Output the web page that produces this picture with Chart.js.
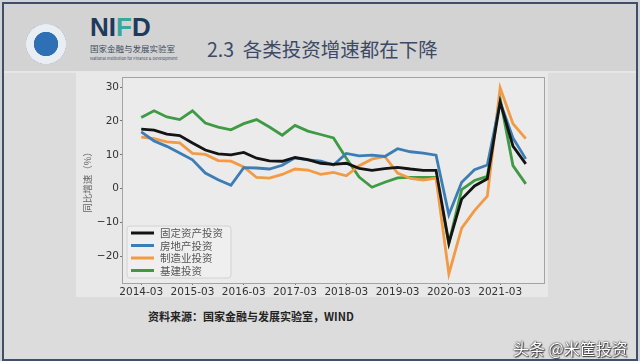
<!DOCTYPE html>
<html>
<head>
<meta charset="utf-8">
<script src="https://cdn.jsdelivr.net/npm/chart.js@4.4.1/dist/chart.umd.min.js"></script>
<style>
  html, body { margin: 0; padding: 0; }
  body { width: 640px; height: 361px; position: relative; overflow: hidden; background: #cfd3d8;
         font-family: "Noto Sans CJK SC", "Noto Sans", sans-serif; }
  .frame { position: absolute; left: 2px; top: 2px; width: 632px; height: 355px;
           border: 2px solid #3f4f68; background: #dcdcdc; }
  .header { position: absolute; left: 0; top: 0; width: 632px; height: 67px; background: #d3d3d3;
            border-bottom: 2px solid #e6e6e6; }
  .logo { position: absolute; left: 22px; top: 20px; width: 40px; height: 40px; border-radius: 50%;
          background: radial-gradient(circle, #2f6fb3 0 42%, #e9eef5 44% 70%, #5b86b8 72% 100%); }
  .nifd { position: absolute; left: 86px; top: 8px; font: 900 26px "Liberation Sans", Arial, sans-serif;
          color: #1f3a5c; }
  .nifd span { color: #3aa6a0; }
  .cn { position: absolute; left: 86px; top: 38px; font-size: 8.5px; color: #3d4b60; }
  .en { position: absolute; left: 86px; top: 51px; font-size: 4px; color: #3d4b60; }
  .title { position: absolute; left: 203px; top: 30px; font-size: 19.5px; color: #3c4a68; white-space: pre; }
  .fig { position: absolute; left: 76px; top: 71px; width: 472px; height: 226px; background: #e8e8e8; }
  .source { position: absolute; left: 148px; top: 308px; font-size: 11px; font-weight: bold; color: #222; }
  .mark { position: absolute; left: 513px; top: 336px; font-size: 16px; color: #fff; z-index: 5;
          text-shadow: 0 0 2px #333, 0 0 1px #333, 1px 1px 1px #444; }
  canvas { position: absolute; left: 0; top: 0; z-index: 2; }
</style>
</head>
<body>
<div class="frame">
  <div class="header">
    <div class="logo"></div>
    <div class="nifd">NI<span>F</span>D</div>
    <div class="cn">国家金融与发展实验室</div>
    <div class="en">National Institution for Finance &amp; Development</div>
    <div class="title">2.3  各类投资增速都在下降</div>
  </div>
</div>
<div class="fig"></div>
<div class="source">资料来源：国家金融与发展实验室，WIND</div>
<div class="mark">头条 @米筐投资</div>
<canvas id="chart" width="640" height="361"></canvas>
<script>
const quarters = [
  '2014-03','2014-06','2014-09','2014-12','2015-03','2015-06','2015-09','2015-12',
  '2016-03','2016-06','2016-09','2016-12','2017-03','2017-06','2017-09','2017-12',
  '2018-03','2018-06','2018-09','2018-12','2019-03','2019-06','2019-09','2019-12',
  '2020-03','2020-06','2020-09','2020-12','2021-03','2021-06','2021-09'
];
const seriesNames = ['固定资产投资', '房地产投资', '制造业投资', '基建投资'];
const fixedAsset = [17.6,17.3,16.1,15.7,13.5,11.4,10.3,10.0,10.7,9.0,8.2,8.1,9.2,8.6,7.5,7.2,7.5,6.0,5.4,5.9,6.3,5.8,5.4,5.4,-16.1,-3.1,0.8,2.9,25.6,12.6,7.3];
const realEstate = [16.8,14.1,12.5,10.5,8.5,4.6,2.6,1.0,6.2,6.1,5.8,6.9,9.1,8.5,8.1,7.0,10.4,9.7,9.9,9.5,11.8,10.9,10.5,9.9,-7.7,1.9,5.6,7.0,25.6,15.0,8.8];
const manufacturing = [15.2,14.8,13.8,13.5,10.4,10.1,8.3,8.1,6.4,3.3,3.1,4.2,5.8,5.5,4.2,4.8,3.8,6.8,8.7,9.5,4.6,3.0,2.5,3.1,-25.2,-11.7,-6.5,-2.2,29.8,19.2,14.8];
const infrastructure = [21.0,23.0,21.2,20.4,23.0,19.4,18.2,17.4,19.2,20.4,18.2,15.8,18.7,17.0,16.0,15.0,9.0,3.4,0.4,1.9,3.2,3.3,3.3,3.3,-16.2,-0.3,2.4,3.6,26.6,6.8,1.4];
const yTicks = [-20, -10, 0, 10, 20, 30];
const xTickIdx = [0, 4, 8, 12, 16, 20, 24, 28];

const colors = ['#141414', '#3b7db4', '#f29a45', '#3f9a44'];
const allSeries = [fixedAsset, realEstate, manufacturing, infrastructure];

// plot background + full box + legend drawn inside the axes
const boxPlugin = {
  id: 'box',
  beforeDraw(chart) {
    const a = chart.chartArea, c = chart.ctx;
    c.save();
    c.fillStyle = '#ebebeb';
    c.fillRect(a.left, a.top, a.right - a.left, a.bottom - a.top);
    c.restore();
  },
  afterDatasetsDraw(chart) {
    const a = chart.chartArea, c = chart.ctx;
    c.save();
    c.strokeStyle = '#a3a3a3';
    c.lineWidth = 1;
    c.strokeRect(a.left + 0.5, a.top + 0.5, a.right - a.left - 1, a.bottom - a.top);
    // legend
    const lx = a.left + 5, ly = 226, lw = 104, lh = 52;
    c.fillStyle = 'rgba(240,240,240,0.85)';
    c.strokeStyle = '#d2d2d2';
    c.beginPath();
    c.roundRect(lx, ly, lw, lh, 3);
    c.fill();
    c.stroke();
    c.font = '10.5px "Noto Sans CJK SC"';
    c.textBaseline = 'middle';
    chart.data.datasets.forEach((ds, i) => {
      const y = ly + 7 + i * 12.5;
      c.strokeStyle = ds.borderColor;
      c.lineWidth = 3;
      c.beginPath();
      c.moveTo(lx + 4, y);
      c.lineTo(lx + 27, y);
      c.stroke();
      c.fillStyle = '#555';
      c.fillText(ds.label, lx + 33, y + 0.5);
    });
    c.restore();
  }
};

new Chart(document.getElementById('chart').getContext('2d'), {
  type: 'line',
  data: {
    datasets: seriesNames.map((name, i) => ({
      label: name,
      data: allSeries[i].map((v, k) => ({ x: k, y: v })),
      borderColor: colors[i],
      borderWidth: 2.8,
      pointRadius: 0,
      tension: 0,
      fill: false
    }))
  },
  options: {
    responsive: false,
    devicePixelRatio: 1,
    animation: false,
    layout: { padding: { left: 78, top: 77, right: 95, bottom: 58 } },
    plugins: { legend: { display: false }, tooltip: { enabled: false } },
    scales: {
      x: {
        type: 'linear',
        min: -1.5,
        max: 31.5,
        afterBuildTicks(scale) { scale.ticks = xTickIdx.map(v => ({ value: v })); },
        afterFit(scale) { scale.height = 20; },
        grid: { display: true, drawOnChartArea: false, drawTicks: true, tickLength: 2, color: '#777' },
        border: { display: false },
        ticks: {
          autoSkip: false, maxRotation: 0, padding: 1, color: '#333',
          font: { family: 'DejaVu Sans', size: 10.5 },
          callback: v => quarters[v]
        }
      },
      y: {
        min: -27.9,
        max: 33.0,
        afterBuildTicks(scale) { scale.ticks = yTicks.map(v => ({ value: v })); },
        afterFit(scale) { scale.width = 44; },
        grid: { display: true, drawOnChartArea: false, drawTicks: true, tickLength: 2, color: '#777' },
        border: { display: false },
        ticks: {
          padding: 1, color: '#333',
          font: { family: 'DejaVu Sans', size: 10.5 },
          callback: v => (v < 0 ? '\u2212' + Math.abs(v) : String(v))
        },
        title: {
          display: true, text: '同比增速（%）', color: '#666',
          font: { family: 'Noto Sans CJK SC', size: 9.5 },
          padding: { top: 4, bottom: 0 }
        }
      }
    }
  },
  plugins: [boxPlugin]
});
</script>
</body>
</html>
